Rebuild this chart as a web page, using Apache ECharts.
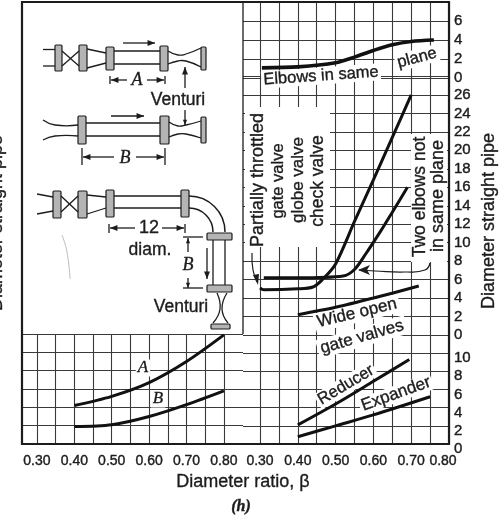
<!DOCTYPE html>
<html><head><meta charset="utf-8">
<style>html,body{margin:0;padding:0;background:#fff}#c{width:500px;height:516px}</style>
<script src="https://cdn.jsdelivr.net/npm/echarts@6/dist/echarts.min.js"></script>
</head><body><div id="c"></div>
<script>
// ---- data ----
const xGridValues = [0.30,0.35,0.40,0.45,0.50,0.55,0.60,0.65,0.70,0.75,0.80];
const xLabelValues = [0.30,0.40,0.50,0.60,0.70,0.80];
const curveA = [[0.40,4.2],[0.50,5.2],[0.60,6.7],[0.70,9.0],[0.80,11.9]];
const curveB = [[0.40,1.9],[0.50,2.1],[0.60,3.0],[0.70,4.3],[0.80,5.8]];
const elbowsSamePlane = [[0.305,1.07],[0.40,1.17],[0.50,1.6],[0.55,2.2],[0.60,2.9],[0.65,3.5],[0.70,3.85],[0.76,4.0]];
const partiallyThrottled = [[0.30,5.1],[0.31,4.9],[0.40,5.0],[0.44,5.2],[0.465,6.0],[0.50,7.7],[0.55,12.3],[0.60,16.8],[0.65,21.4],[0.70,26]];
const twoElbowsNotSamePlane = [[0.31,6.2],[0.40,6.2],[0.52,6.4],[0.55,7.1],[0.58,8.8],[0.62,11.3],[0.65,13.3],[0.69,16]];
const wideOpenGate = [[0.40,2.2],[0.50,3.0],[0.60,4.0],[0.72,5.3]];
const reducer = [[0.40,2.1],[0.50,4.4],[0.60,6.9],[0.695,9.3]];
const expander = [[0.40,0.8],[0.50,2.0],[0.60,3.2],[0.75,5.2]];

const INK='#1c1c1c', GRID='#3a3a3a', FILL='#b4b4b4';
const SANS='"Liberation Sans",Arial,sans-serif', SERIF='"Liberation Serif",serif';

// ---- decoration helpers (inset diagrams, annotations) ----
const g=[];
const line=(x1,y1,x2,y2,w=1.3,c=INK)=>g.push({type:'line',z:5,shape:{x1,y1,x2,y2},style:{stroke:c,lineWidth:w}});
const curve=(pts,w=1.3,c=INK,s=0.5)=>g.push({type:'polyline',z:5,shape:{points:pts,smooth:s},style:{stroke:c,lineWidth:w,fill:null}});
const flange=(x1,y1,x2,y2)=>g.push({type:'rect',z:5,shape:{x:x1,y:y1,width:x2-x1,height:y2-y1,r:1},style:{fill:FILL,stroke:INK,lineWidth:1.2}});
function arrow(x1,y1,x2,y2,w=1.3,s=5){
  line(x1,y1,x2,y2,w);
  const a=Math.atan2(y2-y1,x2-x1),p=0.38;
  g.push({type:'polygon',z:5,shape:{points:[[x2,y2],[x2-s*1.6*Math.cos(a-p),y2-s*1.6*Math.sin(a-p)],[x2-s*1.6*Math.cos(a+p),y2-s*1.6*Math.sin(a+p)]]},style:{fill:INK}});
}
function txt(t,x,y,opt={}){
  g.push({type:'text',z:opt.z??5,x,y,rotation:(opt.rot||0)*Math.PI/180,
    style:Object.assign({text:t,font:opt.font||('17.5px '+SANS),fill:INK,stroke:INK,lineWidth:0.35,align:'center',verticalAlign:'middle'},
      opt.bg?{backgroundColor:'#fff',padding:opt.pad||[1,3]}:{})});
}
const mask=(x,y,w,h)=>g.push({type:'rect',z:1,shape:{x,y,width:w,height:h},style:{fill:'#fff'}});

// frame and blank inset area
mask(23,3,220,331);
mask(245,107,85,140);
mask(411,134,36,128);
line(22,2,449,2,2.2); line(22,1,22,445,2.2); line(449,1,449,445,2.2); line(21,444,450,444,2.2); line(243,2,243,334,1.3);

// diagram 1
line(43,49.5,55,49.5); line(43,66,55,66);
flange(55,45,62,71); flange(79,45,87,71);
line(62,51,79,66); line(62,66,79,51);
line(87,49,106,53); line(87,68,106,63);
flange(106,47,114,70);
line(114,51,160,51); line(114,64,160,64);
flange(160,46,168,71);
curve([[168,51],[178,55],[186,54],[201,48]]); curve([[168,64],[178,61],[186,61],[201,67]]);
flange(201,47,206,70);
arrow(123,43,155,43);
line(110,76,110,84); line(165,76,165,84);
arrow(127,80,111,80); arrow(147,80,164,80);
txt('A',137,80,{font:'italic 18px '+SERIF});
arrow(185,88,185,67);
txt('Venturi',178,100);

// diagram 2
curve([[43,120],[55,125],[78,125]]); curve([[43,140],[55,136],[78,136]]);
flange(78,116,86,144);
line(86,123,160,123); line(86,136,160,136);
flange(160,116,169,144);
curve([[169,122],[178,126],[186,125],[201,121]]); curve([[169,137],[178,134],[186,134],[201,138]]);
flange(201,117,206,143);
arrow(111,116,144,116);
arrow(185,110,185,125,1.3,3.5);
line(82,148,82,165); line(165,148,165,165);
arrow(114,157,83,157); arrow(136,157,164,157);
txt('B',125,158,{font:'italic 18px '+SERIF});

// diagram 3
line(37,194,53,197); line(37,214,53,211);
flange(53,191,61,218); flange(78,191,87,218);
line(61,196,78,212); line(61,212,78,196);
line(87,195,106,197); line(87,214,106,208);
flange(106,190,114,217);
line(114,196,181,196); line(114,208,181,208);
flange(181,190,189,217);
g.push({type:'arc',z:5,shape:{cx:189,cy:232,r:36,startAngle:-Math.PI/2,endAngle:0},style:{stroke:INK,lineWidth:1.5,fill:null}});
g.push({type:'arc',z:5,shape:{cx:189,cy:232,r:24,startAngle:-Math.PI/2,endAngle:0},style:{stroke:INK,lineWidth:1.5,fill:null}});
line(213,240,213,286); line(225,240,225,286);
flange(207,233,232,240); flange(207,285,232,292);
curve([[217,293],[220,309],[213,323]]); curve([[227,293],[222,309],[228,323]]);
flange(211,324,230,329);
line(109,224,109,233); line(185,224,185,233);
arrow(135,228,110,228); arrow(162,228,184,228);
txt('12',149,228,{font:'18px '+SANS});
txt('diam.',150,250);
line(183,237,203,237); line(183,288,203,288);
arrow(188,252,188,238,1.3,3.5); arrow(188,278,188,288,1.3,3.5);
txt('B',188,265,{font:'italic 18px '+SERIF});
arrow(207,248,207,279);
txt('Venturi',181,307);
curve([[62,235],[67,252],[70,279]],0.8,'#aaa');

// right panel annotations
txt('Elbows in same',321,76,{rot:4,bg:true,z:1,font:'16.5px '+SANS,pad:[0,2]});
txt('plane',417,58,{rot:15,bg:true,z:1,font:'16.5px '+SANS,pad:[0,2]});
txt('Partially throttled',258,180,{rot:90,font:'18px '+SANS});
txt('gate valve',278,181,{rot:90,font:'16.5px '+SANS});
txt('globe valve',298,180,{rot:90,font:'17px '+SANS});
txt('check valve',318,181,{rot:90,font:'17.5px '+SANS});
txt('Two elbows not',420,197,{rot:90,font:'17.5px '+SANS});
txt('in same plane',438,196,{rot:90,font:'18px '+SANS});
txt('Wide open',357,313,{rot:13.5,bg:true,z:1,font:'17px '+SANS});
txt('gate valves',362,337,{rot:16,bg:true,z:1,font:'17px '+SANS});
txt('Reducer',346,385,{rot:31,bg:true,z:1,font:'16.5px '+SANS,pad:[0,2]});
txt('Expander',396,394,{rot:20,bg:true,z:1,font:'17px '+SANS,pad:[0,2]});
txt('A',143,368,{bg:true,z:1,font:'italic 17px '+SERIF,pad:[0,2]});
txt('B',158,399,{bg:true,z:1,font:'italic 17px '+SERIF,pad:[0,2]});
curve([[252,253],[253,270],[257,282]],1.2);
g.push({type:'polygon',z:5,shape:{points:[[258,285],[253,275],[259,274]]},style:{fill:INK}});
curve([[430,263],[425,270],[405,272],[375,271],[359,270]],1.2);
g.push({type:'polygon',z:5,shape:{points:[[358,270],[370,265],[367,270],[370,275]]},style:{fill:INK}});

// titles
txt('Diameter ratio, β',243,482,{font:'18px '+SANS});
txt('(h)',241,507,{font:'italic bold 16px '+SERIF});
txt('Diameter straight pipe',489,221,{rot:90,font:'18px '+SANS});
txt('Diameter straight pipe',-3,223,{rot:90,font:'18px '+SANS});

// ---- axes ----
const splitStyle={show:true,lineStyle:{color:GRID,width:1.1}};
const tickLabel={fontFamily:SANS,fontSize:14,color:INK,textBorderColor:INK,textBorderWidth:0.4};
const xAxis=(grid,min,max,showLab,pad)=>({type:'value',gridIndex:grid,min,max,
  axisLine:{show:false},splitLine:splitStyle,
  axisTick:{show:false,customValues:xGridValues},
  axisLabel:showLab?{show:true,customValues:xLabelValues,margin:10,...tickLabel,
    formatter:v=>(pad&&v>0.79)?'{r|'+v.toFixed(2)+'}':v.toFixed(2),
    rich:{r:{padding:[0,12,0,0],...tickLabel}},hideOverlap:false}:{show:false}});
const yAxis=(grid,min,max,show,hide,offsetDown)=>({type:'value',gridIndex:grid,min,max,interval:2,position:'right',
  axisLine:{show:false},axisTick:{show:false},splitLine:splitStyle,
  axisLabel:show?{show:true,margin:5,...tickLabel,fontSize:15,
    formatter:v=>v===hide?'':(offsetDown?'{d|'+v+'}':String(v)),
    rich:{d:{padding:[10,0,0,0],...tickLabel,fontSize:15}}}:{show:false}});

const line3=(name,data,x,w=3)=>({type:'line',name,data,xAxisIndex:x,yAxisIndex:x,smooth:0.3,showSymbol:false,symbol:'none',
  lineStyle:{color:'#111',width:w},z:3,animation:false});

const option={
  animation:false,backgroundColor:'#fff',
  grid:[
    {left:22,width:221,top:334,height:110},
    {left:243,width:206,top:2,height:76},
    {left:243,width:206,top:76.5,height:258.5},
    {left:243,width:206,top:335,height:109}
  ],
  xAxis:[xAxis(0,0.26,0.851,true,false),xAxis(1,0.255,0.80,false),xAxis(2,0.255,0.80,false),xAxis(3,0.255,0.80,true,true)],
  yAxis:[yAxis(0,0,12,false),yAxis(1,0,8,true,8),yAxis(2,0,28,true,28),yAxis(3,0,12,true,12,true)],
  series:[
    line3('A',curveA,0),line3('B',curveB,0),
    line3('Elbows in same plane',elbowsSamePlane,1,3.6),
    line3('Partially throttled',partiallyThrottled,2),
    line3('Two elbows not in same plane',twoElbowsNotSamePlane,2),
    line3('Wide open gate valves',wideOpenGate,2),
    line3('Reducer',reducer,3),line3('Expander',expander,3)
  ],
  graphic:{elements:g}
};
const chart=echarts.init(document.getElementById('c'),null,{renderer:'canvas'});
chart.setOption(option);
</script></body></html>
